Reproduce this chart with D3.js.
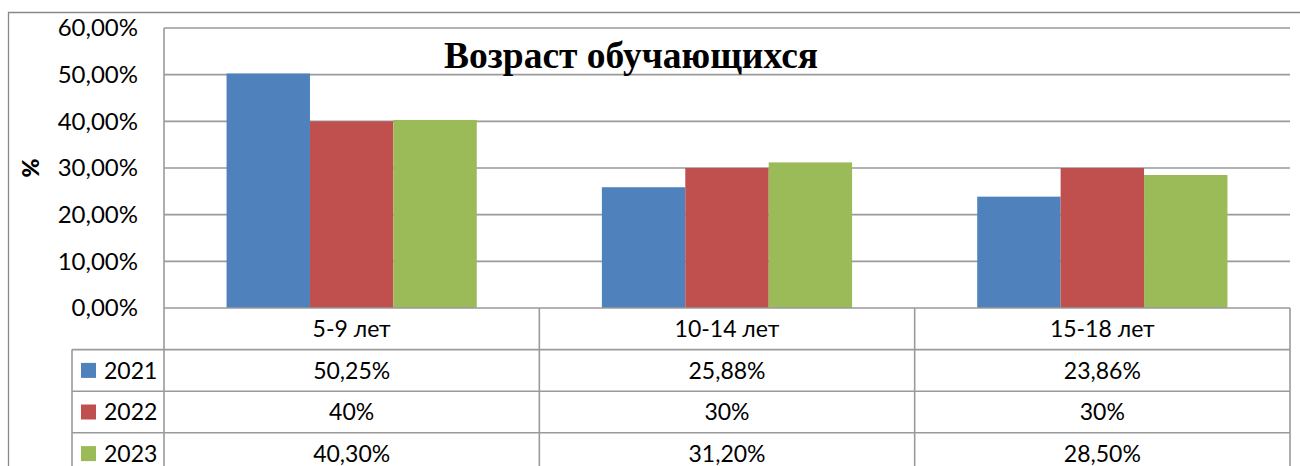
<!DOCTYPE html>
<html><head><meta charset="utf-8">
<script src="https://cdn.jsdelivr.net/npm/d3@7"></script>
<style>html,body{margin:0;padding:0;background:#fff;overflow:hidden}</style>
</head><body>
<svg id="c" width="1300" height="466"></svg>
<script>
const categories = ["5-9 лет", "10-14 лет", "15-18 лет"];
const seriesNames = ["2021", "2022", "2023"];
const values2021 = [50.25, 25.88, 23.86];
const values2022 = [40, 30, 30];
const values2023 = [40.30, 31.20, 28.50];
const labels2021 = ["50,25%", "25,88%", "23,86%"];
const labels2022 = ["40%", "30%", "30%"];
const labels2023 = ["40,30%", "31,20%", "28,50%"];
const yTicks = [0, 10, 20, 30, 40, 50, 60];
const colors = ["#4F81BD", "#C0504D", "#9BBB59"];
const title = "Возраст обучающихся";
const yTitle = "%";

const series = [
  {name: seriesNames[0], values: values2021, labels: labels2021, color: colors[0]},
  {name: seriesNames[1], values: values2022, labels: labels2022, color: colors[1]},
  {name: seriesNames[2], values: values2023, labels: labels2023, color: colors[2]}
];

const svg = d3.select("#c");
const L = 164, R = 1290, T = 28, B = 308;
const rowH = 41.6;
const tableLeft = 72;
const font = "Lato, 'Open Sans', sans-serif";
const gridCol = "#9a9a9a";

// outer chart border
svg.append("path").attr("d", `M8.5,470 V12.5 H1302`).attr("fill","none").attr("stroke","#888").attr("stroke-width",1.3);

const y = d3.scaleLinear().domain([0, 60]).range([B, T]);
const x = d3.scaleBand().domain(categories).range([L, R]).padding(0);
const inner = d3.scaleBand().domain(seriesNames)
  .range([0, x.bandwidth()]).paddingInner(0).paddingOuter(0.75);

// gridlines
svg.append("g").selectAll("line").data(yTicks.filter(d => d > 0)).join("line")
  .attr("x1", L).attr("x2", R).attr("y1", d => y(d)).attr("y2", d => y(d))
  .attr("stroke", gridCol).attr("stroke-width", 1.6);

// y axis tick labels
svg.append("g").selectAll("text").data(yTicks).join("text")
  .attr("x", 138).attr("y", d => y(d)).attr("dy", "0.35em")
  .attr("text-anchor", "end").attr("font-family", font).attr("font-size", 24)
  .attr("fill", "#000")
  .text(d => d3.format(".2f")(d).replace(".", ",") + "%");

// y title
svg.append("text").attr("transform", `translate(39,168) rotate(-90)`)
  .attr("text-anchor", "middle").attr("font-family", font).attr("font-weight", "900")
  .attr("font-size", 23).text(yTitle);

// bars
const gBars = svg.append("g");
series.forEach(s => {
  gBars.selectAll(null).data(categories).join("rect")
    .attr("x", (c) => x(c) + inner(s.name))
    .attr("width", inner.bandwidth())
    .attr("y", (c, i) => y(s.values[i]))
    .attr("height", (c, i) => y(0) - y(s.values[i]))
    .attr("fill", s.color);
});

// title
svg.append("text").attr("x", 631).attr("y", 68).attr("text-anchor", "middle")
  .attr("font-family", "'Liberation Serif','Times New Roman',serif").attr("font-weight", "bold")
  .attr("font-size", 37.5).text(title);

// table lines
const lines = svg.append("g").attr("stroke", gridCol).attr("stroke-width", 1.6);
const tableBottom = B + rowH * 4;
lines.append("line").attr("x1", L).attr("x2", R).attr("y1", B).attr("y2", B);
for (let r = 1; r <= 3; r++) {
  lines.append("line").attr("x1", tableLeft).attr("x2", R)
    .attr("y1", B + rowH * r).attr("y2", B + rowH * r);
}
lines.append("line").attr("x1", L).attr("x2", L).attr("y1", T).attr("y2", tableBottom);
lines.append("line").attr("x1", tableLeft).attr("x2", tableLeft).attr("y1", B + rowH).attr("y2", tableBottom);
categories.forEach((c, i) => {
  if (i > 0) lines.append("line").attr("x1", x(c)).attr("x2", x(c)).attr("y1", B).attr("y2", tableBottom);
});
lines.append("line").attr("x1", R).attr("x2", R).attr("y1", B).attr("y2", tableBottom);

// header category labels
svg.append("g").selectAll("text").data(categories).join("text")
  .attr("x", c => x(c) + x.bandwidth() / 2).attr("y", B + rowH / 2).attr("dy", "0.36em")
  .attr("text-anchor", "middle").attr("font-family", font).attr("font-size", 23).text(c => c);

// rows
series.forEach((s, r) => {
  const cy = B + rowH * (r + 1) + rowH / 2;
  svg.append("rect").attr("x", 81).attr("y", cy - 7.5).attr("width", 15).attr("height", 15).attr("fill", s.color);
  svg.append("text").attr("x", 104).attr("y", cy).attr("dy", "0.36em")
    .attr("font-family", font).attr("font-size", 23).text(s.name);
  svg.append("g").selectAll("text").data(categories).join("text")
    .attr("x", c => x(c) + x.bandwidth() / 2).attr("y", cy).attr("dy", "0.36em")
    .attr("text-anchor", "middle").attr("font-family", font).attr("font-size", 23)
    .text((c, i) => s.labels[i]);
});
</script>
</body></html>
